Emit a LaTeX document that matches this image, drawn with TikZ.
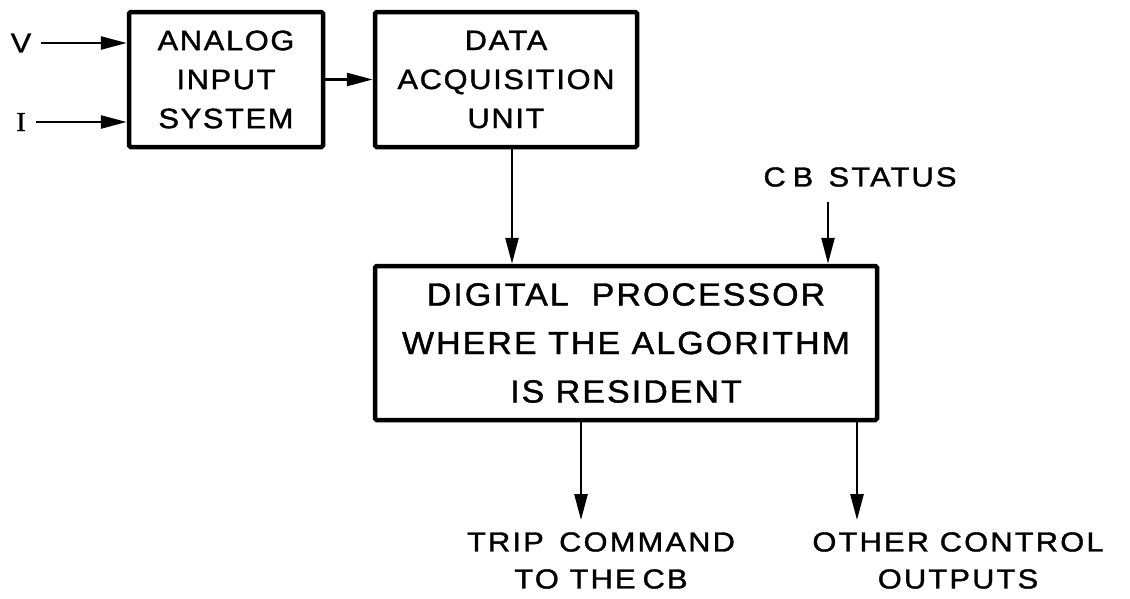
\documentclass[tikz,border=0pt]{standalone}
\usepackage{fontspec}
\setmainfont{Liberation Sans}[LetterSpace=8,FakeBold=1.3]
\newfontfamily\blockfont{Liberation Sans}[FakeStretch=1.1,LetterSpace=6,FakeBold=1.3]
\newfontfamily\procfont{Liberation Sans}[FakeStretch=1.06,LetterSpace=6.5,FakeBold=1.3]
\newfontfamily\labelfont{Liberation Sans}[FakeStretch=1.12,LetterSpace=8,FakeBold=1.3]
\newfontfamily\serifI{Liberation Serif}[FakeBold=1.3]
\usetikzlibrary{arrows.meta,calc}
\begin{document}
\begin{tikzpicture}[x=1pt,y=-1pt,
  box/.style={draw,line width=4.5pt,rounded corners=1.5pt,inner sep=0pt,align=center},
  boxsmall/.style={box,font=\blockfont\fontsize{28}{39}\selectfont},
  boxlarge/.style={box,font=\procfont\fontsize{32}{48.5}\selectfont},
  lbl/.style={inner sep=0pt,align=center,font=\labelfont\fontsize{27.5}{37}\selectfont},
  arr/.style={line width=2.6pt,-{Triangle[length=26pt,width=13pt]}}]
\useasboundingbox (0,0) rectangle (1130,598);

% blocks
\node[boxsmall,minimum width=194pt,minimum height=135pt] (ais) at (226,79.5)
  {ANALOG\\INPUT\\SYSTEM};
\node[boxsmall,minimum width=262pt,minimum height=135pt] (dau) at (506,79.5)
  {DATA\\ACQUISITION\\UNIT};
\node[boxlarge,minimum width=502pt,minimum height=154pt] (dp) at (626,343)
  {DIGITAL\ \ PROCESSOR\\WHERE THE ALGORITHM\\IS RESIDENT};

% labels
\node[lbl] (v) at (21,43) {V};
\node[lbl] (i) at (21,122) {{\serifI I}};
\node[lbl] (cbs) at (860,177) {C\hspace{7pt}B\ \,STATUS};
\node[lbl] (trip) at (601,560.5) {TRIP\ \,COMMAND\\TO THE\hspace{7pt}CB};
\node[lbl] (oth) at (958,560.5) {OTHER CONTROL\\OUTPUTS};

% connector positions
\coordinate (dx) at (512,0);
\coordinate (cbx) at (828,0);
\coordinate (tx) at (581,0);
\coordinate (ox) at (857,0);

% connectors
\draw[arr,shorten <=10pt] (v.east) -- (v.east -| ais.west);
\draw[arr,shorten <=10pt] (i.east) -- (i.east -| ais.west);
\draw[arr] (ais.east) -- (ais.east -| dau.west);
\draw[arr] (dau.south -| dx) -- (dp.north -| dx);
\draw[arr,shorten <=15pt] (cbs.south -| cbx) -- (dp.north -| cbx);
\draw[arr,shorten >=12pt] (dp.south -| tx) -- (trip.north -| tx);
\draw[arr,shorten >=12pt] (dp.south -| ox) -- (oth.north -| ox);
\end{tikzpicture}
\end{document}
